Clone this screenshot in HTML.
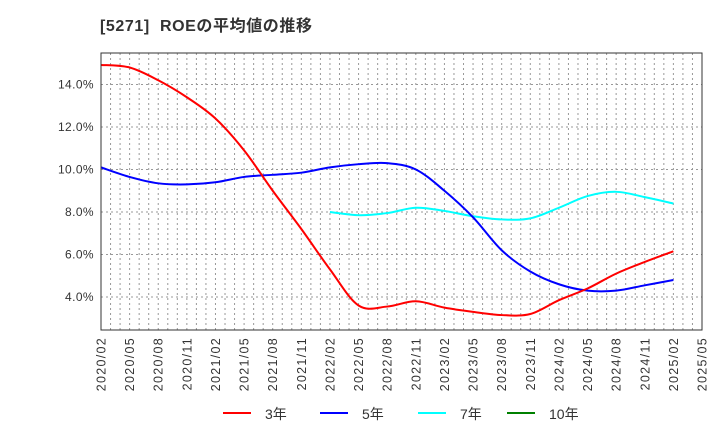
<!DOCTYPE html>
<html><head><meta charset="utf-8"><style>
body{margin:0;background:#fff;width:720px;height:440px;overflow:hidden;font-family:"Liberation Sans","Noto Sans CJK JP",sans-serif;}
</style></head><body>
<svg id="chart" width="720" height="440" xmlns="http://www.w3.org/2000/svg" font-family="Liberation Sans, Noto Sans CJK JP, sans-serif">
<text x="100" y="31" font-size="16" font-weight="bold" fill="#333" letter-spacing="0.6" xml:space="preserve">[5271]  ROEの平均値の推移</text>
<g id="grid"></g><g id="series"></g><g id="axes"></g><g id="legend"></g>
</svg>
<script>
const xLabels=["2020/02","2020/05","2020/08","2020/11","2021/02","2021/05","2021/08","2021/11","2022/02","2022/05","2022/08","2022/11","2023/02","2023/05","2023/08","2023/11","2024/02","2024/05","2024/08","2024/11","2025/02","2025/05"];
const yTicks=[4,6,8,10,12,14];
const roe3=[14.92,14.8,14.2,13.4,12.4,10.9,9.0,7.2,5.3,3.6,3.55,3.8,3.5,3.3,3.15,3.2,3.85,4.4,5.1,5.65,6.15];
const roe5=[10.1,9.65,9.35,9.3,9.4,9.65,9.75,9.85,10.1,10.25,10.3,10.0,9.0,7.75,6.2,5.2,4.6,4.3,4.3,4.55,4.8];
const roe7=[null,null,null,null,null,null,null,null,8.0,7.85,7.95,8.2,8.05,7.8,7.65,7.7,8.2,8.75,8.95,8.7,8.4];
const roe10=[];
const L=101,R=702,T=53,B=330;
const x=m=>L+m*(R-L)/63;
const y=v=>297-(v-4)*21.25;
const NS="http://www.w3.org/2000/svg";
function mk(t,a,p){const e=document.createElementNS(NS,t);for(const k in a)e.setAttribute(k,a[k]);p.appendChild(e);return e;}
const grid=document.getElementById('grid');
for(let m=1;m<63;m++){const l=mk('line',{x1:x(m),x2:x(m),y1:T,y2:B,stroke:'#999','stroke-dasharray':'2,3','stroke-width':1},grid);

}
const axes=document.getElementById('axes');
yTicks.forEach(v=>{const l=mk('line',{x1:L,x2:R,y1:y(v),y2:y(v),stroke:'#999','stroke-dasharray':'2,3'},grid);


const t=mk('text',{x:L-7,y:y(v)+4,'text-anchor':'end','font-size':12,fill:'#333','letter-spacing':0.4},axes);t.textContent=v.toFixed(1)+'%';

});
const fr=mk('rect',{x:L,y:T,width:R-L,height:B-T,fill:'none',stroke:'#333','stroke-width':1},axes);


xLabels.forEach((s,i)=>{const px=x(i*3);const t=mk('text',{transform:`translate(${px+4.5},${B+7}) rotate(-90)`,'text-anchor':'end','font-size':12.5,fill:'#333','letter-spacing':1.3},axes);t.textContent=s;

});
function path(arr){const pts=[];arr.forEach((v,i)=>{if(v!=null)pts.push([x(i*3),y(v)]);});if(pts.length<2)return '';
let d=`M${pts[0][0]},${pts[0][1]}`;for(let i=0;i<pts.length-1;i++){const p0=pts[i-1]||pts[i],p1=pts[i],p2=pts[i+1],p3=pts[i+2]||p2;
d+=`C${p1[0]+(p2[0]-p0[0])/6},${p1[1]+(p2[1]-p0[1])/6} ${p2[0]-(p3[0]-p1[0])/6},${p2[1]-(p3[1]-p1[1])/6} ${p2[0]},${p2[1]}`;}return d;}
const ser=document.getElementById('series');
[[roe7,'#00ffff','line-7y'],[roe10,'#008000','line-10y'],[roe5,'#0000ff','line-5y'],[roe3,'#ff0000','line-3y']].forEach(([a,c,n])=>{const d=path(a);if(!d)return;
const p=mk('path',{d:d,fill:'none',stroke:c,'stroke-width':2},ser);

});
const leg=document.getElementById('legend');
[['3年','#ff0000',223],['5年','#0000ff',320],['7年','#00ffff',418],['10年','#008000',507]].forEach(([s,c,lx])=>{
const l=mk('line',{x1:lx,x2:lx+28,y1:413,y2:413,stroke:c,'stroke-width':2},leg);


const t=mk('text',{x:lx+42,y:419,'font-size':14,fill:'#333'},leg);t.textContent=s;

});
</script>
</body></html>
